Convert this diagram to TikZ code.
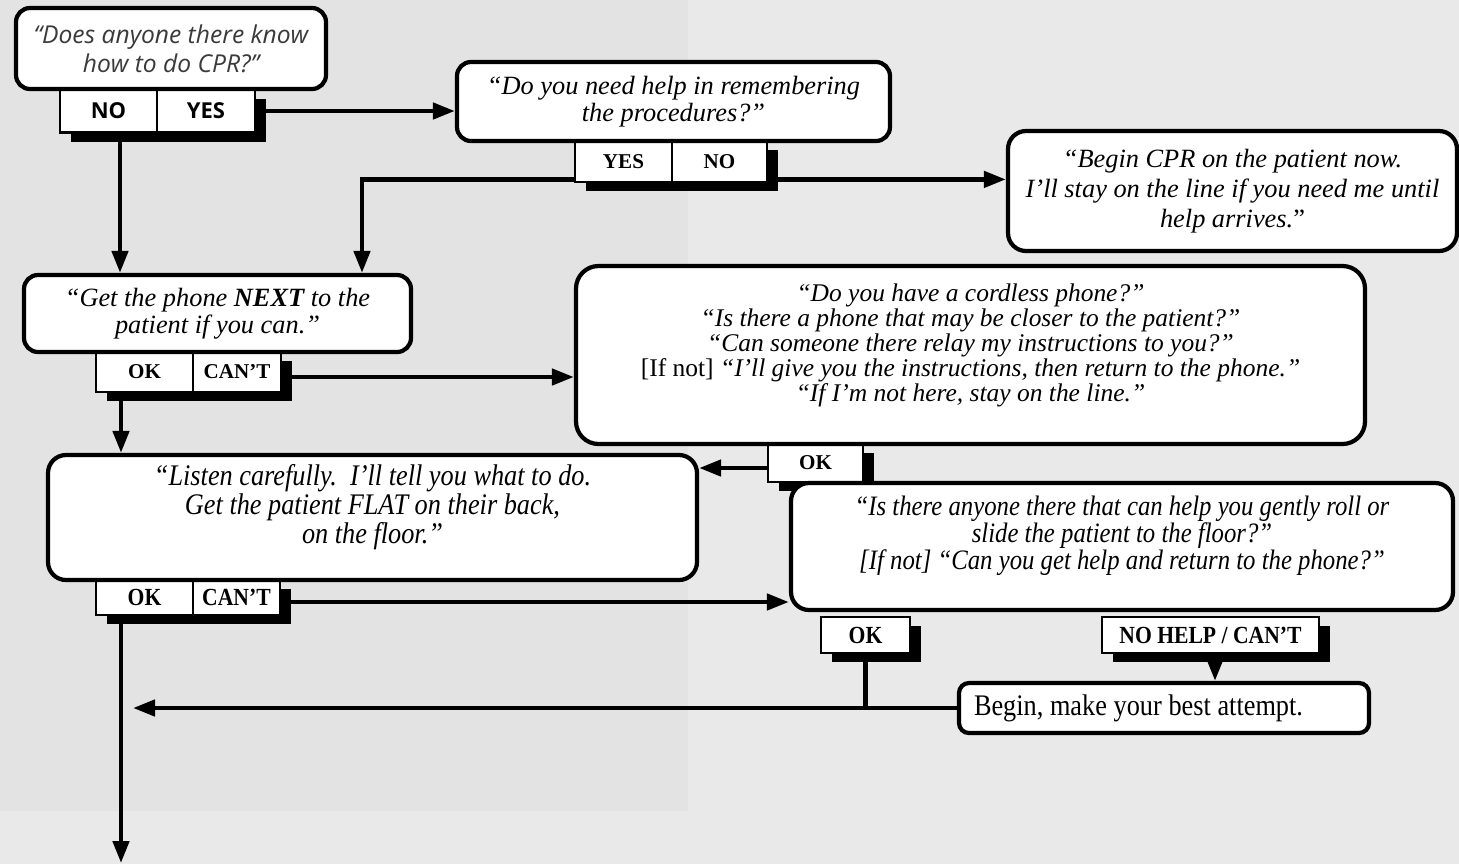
\documentclass[tikz,border=0pt]{standalone}
\usepackage{fontspec}
\setmainfont{Liberation Serif}
\newfontfamily\opensans{Open Sans}
\newfontfamily\narrow[FakeStretch=0.88]{Liberation Serif}
\usetikzlibrary{arrows.meta,shadows}
\definecolor{bgleft}{HTML}{E3E3E3}
\definecolor{bgright}{HTML}{E9E9E9}
\definecolor{askgray}{HTML}{3A3A3A}

\begin{document}
\begin{tikzpicture}[
            quest/.style={draw, line width=2.4pt, fill=white, rounded corners=0.28cm,
                align=center, inner sep=0pt, font=\fontsize{15}{15.4}\selectfont\itshape},
            slim/.style={quest, font=\fontsize{16}{15.4}\selectfont\narrow\itshape},
            reply/.style={draw, line width=1.6pt, fill=white, inner sep=0pt,
                font=\fontsize{12}{14}\selectfont\bfseries,
                drop shadow={shadow xshift=0.22cm, shadow yshift=-0.18cm, fill=black, opacity=1}},
            slimreply/.style={reply, font=\fontsize{14}{14}\selectfont\narrow\bfseries},
            sansreply/.style={reply, font=\fontsize{12.5}{14}\selectfont\opensans\bfseries},
            wire/.style={line width=2.6pt},
            link/.style={wire, -{Triangle[length=0.44cm, width=0.32cm]}}]
            \useasboundingbox (0,0) rectangle (29.18,-17.28);
            \fill[bgright] (0,0) rectangle (29.18,-17.28);
            \fill[bgleft] (0,0) rectangle (13.76,-16.22);

            \coordinate (down) at (2.42,-17.26);
            \coordinate (back) at (2.66,-14.16);

            \node[sansreply, minimum width=1.94cm, minimum height=0.86cm] (n1no) at (2.17,-2.22) {NO};
            \node[sansreply, minimum width=1.96cm, minimum height=0.86cm] (n1yes) at (4.12,-2.22) {YES};
            \node[quest, minimum width=6.2cm, minimum height=1.62cm, text=askgray, font=\fontsize{14}{16.5}\selectfont\opensans\itshape] (ask) at (3.42,-0.97)
                {“Does anyone there know\\ how to do CPR?”};

            \node[reply, minimum width=1.94cm, minimum height=0.82cm] (n2yes) at (12.47,-3.23) {YES};
            \node[reply, minimum width=1.9cm, minimum height=0.82cm] (n2no) at (14.39,-3.23) {NO};
            \node[quest, minimum width=8.66cm, minimum height=1.58cm] (recall) at (13.47,-2.03)
                {“Do you need help in remembering\\ the procedures?”};

            \node[quest, minimum width=8.98cm, minimum height=2.4cm, rounded corners=0.36cm, font=\fontsize{15}{17}\selectfont\itshape] (start) at (24.65,-3.82)
                {“Begin CPR on the patient now.\\ I’ll stay on the line if you need me until\\ help arrives.{\upshape ”}};

            \node[reply, minimum width=1.94cm, minimum height=0.8cm] (n4ok) at (2.89,-7.44) {OK};
            \node[reply, minimum width=1.76cm, minimum height=0.8cm] (n4cant) at (4.74,-7.44) {CAN’T};
            \node[quest, minimum width=7.74cm, minimum height=1.54cm] (phone) at (4.35,-6.27)
                {“Get the phone \textbf{NEXT} to the\\ patient if you can.”};

            \node[reply, minimum width=1.9cm, minimum height=0.76cm] (n5ok) at (16.31,-9.26) {OK};
            \node[quest, minimum width=15.78cm, minimum height=3.56cm, rounded corners=0.45cm, font=\fontsize{14.5}{14.2}\selectfont\itshape] (cordless) at (19.41,-7.1)
                {“Do you have a cordless phone?”\\ “Is there a phone that may be closer to the patient?”\\
                “Can someone there relay my instructions to you?”\\
                {\upshape [If not]} “I’ll give you the instructions, then return to the phone.”\\
                “If I’m not here, stay on the line.”\\ \mbox{}};

            \node[slimreply, minimum width=1.94cm, minimum height=0.7cm] (n6ok) at (2.89,-11.95) {OK};
            \node[slimreply, minimum width=1.74cm, minimum height=0.7cm] (n6cant) at (4.73,-11.95) {CAN’T};
            \node[slim, minimum width=12.98cm, minimum height=2.5cm, rounded corners=0.36cm, font=\fontsize{17}{15.4}\selectfont\narrow\itshape] (flat) at (7.45,-10.35)
                {“Listen carefully.\ \ I’ll tell you what to do.\\ Get the patient FLAT on their back,\\ on the floor.”\\ \mbox{}};

            \node[slim, minimum width=13.24cm, minimum height=2.54cm, rounded corners=0.36cm] (roll) at (22.44,-10.93)
                {“Is there anyone there that can help you gently roll or\\ slide the patient to the floor?”\\
                {[If not]} “Can you get help and return to the phone?”\\ \mbox{}};
            \node[slimreply, minimum width=1.78cm, minimum height=0.72cm] (n7ok) at (17.31,-12.7) {OK};
            \node[slimreply, minimum width=4.34cm, minimum height=0.72cm] (n7help) at (24.21,-12.7) {NO HELP / CAN’T};

            \node[slim, text width=7.6cm, inner xsep=0.3cm, align=left, minimum height=1.0cm, rounded corners=0.2cm,
                font=\fontsize{17}{17}\selectfont\narrow] (attempt) at (23.28,-14.16)
                {\spaceskip=3.8pt\relax Begin, make your best attempt.};

            \draw[link] (n1yes.east) -- (n1yes.east -| recall.west);
            \draw[link] ([xshift=0.23cm]n1no.south) -- ([xshift=0.23cm]n1no.south |- phone.north);
            \draw[link] ([yshift=0.08cm]n2yes.south west) -| ([xshift=2.89cm]phone.north);
            \draw[link] ([yshift=0.08cm]n2no.south east) -- ([yshift=0.08cm]n2no.south east -| start.west);
            \draw[link] ([yshift=-0.1cm]n4cant.east) -- ([yshift=-0.1cm]n4cant.east -| cordless.west);
            \draw[link] ([xshift=-0.47cm]n4ok.south) -- ([xshift=-0.47cm]n4ok.south |- flat.north);
            \draw[link] ([yshift=-0.1cm]n5ok.west) -- ([yshift=-0.1cm]n5ok.west -| flat.east);
            \draw[link] ([yshift=-0.09cm]n6cant.east) -- ([yshift=-0.09cm]n6cant.east -| roll.west);
            \draw[link] ([xshift=-0.47cm]n6ok.south) -- ([xshift=-0.47cm]n6ok.south |- down);
            \draw[link] ([xshift=0.09cm]n7help.south) -- ([xshift=0.09cm]n7help.south |- attempt.north);
            \draw[link] (attempt.west) -- (back);
            \draw[wire] (n7ok.south) -- (n7ok.south |- attempt.west);
        \end{tikzpicture}
\end{document}
